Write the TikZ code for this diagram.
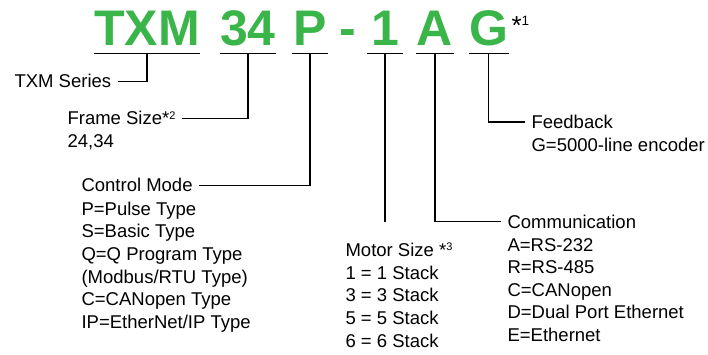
\documentclass[tikz,border=0pt]{standalone}
\usepackage{fontspec}
\setmainfont{Liberation Sans}
\definecolor{codegreen}{RGB}{57,181,74}
\newcommand{\lblfont}{\fontsize{18.5}{22.6}\selectfont}
\newcommand{\codefont}{\fontsize{50}{50}\selectfont\bfseries}
\newcommand{\supnum}[1]{\raisebox{5.5pt}{\fontsize{11}{11}\selectfont #1}}

\begin{document}
\begin{tikzpicture}[x=1pt,y=-1pt,line width=1.1pt,
    letter/.style={font=\codefont,text=codegreen,anchor=base,inner sep=0pt,
      text height=37pt,text depth=7pt,minimum width=35pt},
    hd/.style={font=\lblfont,anchor=base west,inner xsep=6pt,inner ysep=0pt,
      text height=13pt,text depth=0pt},
    lst/.style={font=\lblfont,anchor=north west,inner sep=0pt,align=left}]
    \useasboundingbox (0,0) rectangle (708,355);
    % Code letters
    \node[letter] (txm) at (147,46) {TXM};
    \node[letter] (frame) at (248,46) {34};
    \node[letter] (ctrl) at (310,46) {P};
    \node[letter] (dash) at (348,46) {-};
    \node[letter] (motor) at (385,46) {1};
    \node[letter] (comm) at (435,46) {A};
    \node[letter] (fb) at (488.5,46) {G};
    \node[anchor=base west,inner sep=0pt,font=\fontsize{26}{26}\selectfont]
      (note) at (511,35) {*\raisebox{9pt}{\fontsize{13.5}{13.5}\selectfont 1}};
    \foreach \n in {txm,frame,ctrl,motor,comm,fb}
      \draw (\n.south west) -- (\n.south east);
    % Labels
    \node[hd] (serieshd) at (8,88) {TXM Series};
    \node[hd] (framehd) at (61,125) {Frame Size*\supnum{2}};
    \node[lst] (framelst) at (67,134.3) {24,34};
    \node[hd] (ctrlhd) at (75,192) {Control Mode};
    \node[lst] (ctrllst) at (81,201.3)
      {P=Pulse Type\\S=Basic Type\\Q=Q Program Type\\(Modbus/RTU Type)\\C=CANopen Type\\IP=EtherNet/IP Type};
    \node[hd] (motorhd) at (339,256) {Motor Size *\supnum{3}};
    \node[lst] (motorlst) at (345,265.3)
      {1 = 1 Stack\\3 = 3 Stack\\5 = 5 Stack\\6 = 6 Stack};
    \node[hd] (commhd) at (501,228.3) {Communication};
    \node[lst] (commlst) at (507,237.6)
      {A=RS-232\\R=RS-485\\C=CANopen\\D=Dual Port Ethernet\\E=Ethernet};
    \node[hd] (fbhd) at (525,128.5) {Feedback};
    \node[lst] (fblst) at (531,137.8) {G=5000-line encoder};
    % Leaders
    \draw (txm.south) |- (serieshd.east);
    \draw (frame.south) |- (framehd.east);
    \draw (ctrl.south) |- (ctrlhd.east);
    \draw[shorten >=20pt] (motor.south) -- (motor.south |- motorhd.north);
    \draw (comm.south) |- (commhd.west);
    \draw (fb.south) |- (fbhd.west);
\end{tikzpicture}
\end{document}
